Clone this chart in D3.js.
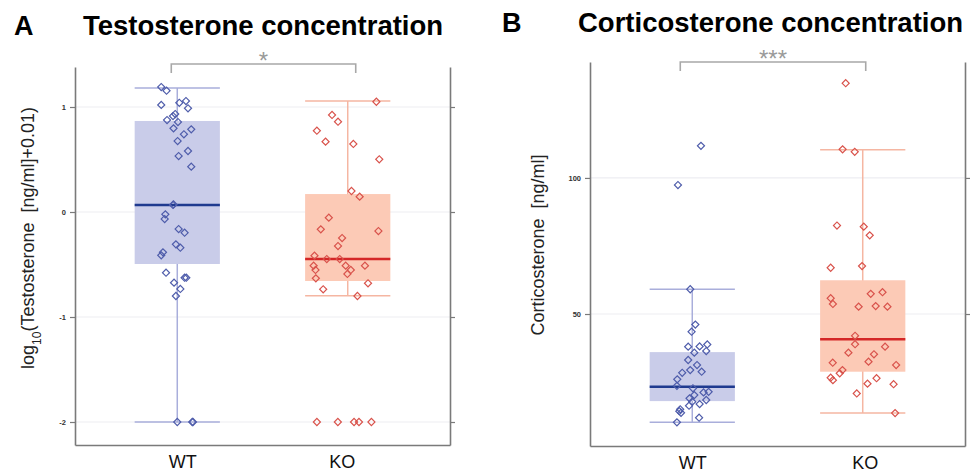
<!DOCTYPE html>
<html lang="en">
<head>
<meta charset="UTF-8" />
<script src="https://d3js.org/d3.v7.min.js"></script>
<title>Testosterone / Corticosterone</title>
<style>
  body { margin: 0; background: #fff; }
  svg { font-family: Arial, "Liberation Sans", sans-serif; }
</style>
</head>
<body>
<svg width="973" height="475"></svg>
<script>
const groups = ["WT", "KO"];

// testosterone, log10(ng/ml + 0.01) -> [value, jitter in category steps]
const testoWT = [
  [1.19, -0.094], [1.155, -0.063], [1.02, -0.094], [1.04, 0.012], [1.057, 0.051],
  [0.988, 0.063], [0.933, -0.012], [0.914, -0.025], [0.876, -0.06], [0.857, 0.004],
  [0.797, -0.022], [0.787, 0.082], [0.74, 0.039], [0.676, 0.002], [0.581, 0.063],
  [0.533, 0.008], [0.432, 0.082], [0.067, -0.025], [0.072, -0.022], [-0.022, -0.07],
  [-0.067, -0.074], [-0.162, 0.008], [-0.197, 0.043], [-0.308, -0.008], [-0.34, 0.018],
  [-0.384, -0.084], [-0.413, -0.094], [-0.578, -0.066], [-0.626, 0.043], [-0.626, 0.053],
  [-0.673, -0.019], [-0.733, 0.018], [-0.8, -0.008], [-2, 0], [-2, 0.088], [-2, 0.092]
];
const testoKO = [
  [1.05, 0.168], [0.924, -0.092], [0.86, -0.057], [0.774, -0.181], [0.67, -0.13],
  [0.648, 0.033], [0.502, 0.185], [0.2, 0.022], [0.146, 0.07], [-0.054, -0.111],
  [-0.165, -0.158], [-0.181, 0.18], [-0.248, -0.033], [-0.324, -0.057], [-0.416, -0.195],
  [-0.448, -0.123], [-0.448, -0.047], [-0.511, -0.2], [-0.552, -0.189], [-0.511, -0.012],
  [-0.552, 0.018], [-0.511, 0.101], [-0.59, -0.002], [-0.632, -0.187], [-0.679, 0.119],
  [-0.736, -0.144], [-0.8, 0.057], [-2, -0.181], [-2, -0.058], [-2, 0.037],
  [-2, 0.066], [-2, 0.139]
];
// [lower whisker, Q1, median, Q3, upper whisker]
const testoBoxWT = [-2, -0.495, 0.067, 0.867, 1.18];
const testoBoxKO = [-0.797, -0.657, -0.448, 0.171, 1.057];
const testoTicks = [-2, -1, 0, 1];

// corticosterone, ng/ml
const corticoWT = [
  [111.8, 0.051], [97.4, -0.084], [59.1, -0.012], [46.1, 0.018], [43.5, -0.004],
  [38.8, 0.088], [38.1, 0.043], [38.0, -0.024], [36.4, 0.082], [35.8, 0.012],
  [33.1, -0.024], [31.25, 0.028], [29.4, -0.012], [28.8, 0.055], [28.4, -0.059],
  [26.0, -0.088], [23.6, -0.09], [22.7, 0.004], [21.4, 0.096], [21.2, 0.066],
  [20.2, 0.012], [19.0, -0.016], [18.4, 0.082], [17.8, 0], [16.9, 0.043],
  [16.3, -0.019], [15.0, -0.071], [14.3, -0.076], [13.7, -0.066], [11.9, 0.04],
  [10.2, -0.09]
];
const corticoKO = [
  [134.8, -0.1], [110.5, -0.118], [109.6, -0.047], [82.5, -0.151], [82.1, 0.006],
  [78.9, 0.041], [67.6, -0.004], [67.0, -0.188], [58.0, 0.116], [57.4, 0.047],
  [55.8, -0.188], [53.7, -0.175], [52.7, -0.024], [52.9, 0.076], [52.7, 0.145],
  [42.0, -0.045], [38.9, -0.045], [38.0, 0.131], [35.8, -0.084], [35.2, 0.066],
  [32.1, -0.176], [32.5, 0.034], [31.25, 0.196], [29.4, -0.119], [28.2, -0.135],
  [26.6, -0.188], [25.7, -0.175], [26.4, 0.081], [24.4, 0.028], [24.2, 0.181],
  [20.8, -0.035], [13.6, 0.19]
];
const corticoBoxWT = [10.2, 18.0, 23.3, 36.0, 59.1];
const corticoBoxKO = [13.6, 28.8, 40.7, 62.4, 110.4];
const corticoTicks = [50, 100];

const colors = {
  WT: { box: "#c9cce9", whisker: "#a9aedb", median: "#1f3a8f", point: "#4f5dab" },
  KO: { box: "#fccab6", whisker: "#f5b6a2", median: "#d42727", point: "#d9534c" }
};

const svg = d3.select("svg");
const diamond = d3.symbol(d3.symbolSquare, 25);

function drawPanel(opt) {
  const g = svg.append("g");

  const x = d3.scalePoint().domain(groups).range([opt.left, opt.right]).padding(0.6);
  const y = d3.scaleLinear().domain(opt.domain).range([opt.bottom, opt.top]);
  const boxW = x.step() * 0.5;

  // faint grid
  g.selectAll(".grid")
    .data(opt.ticks)
    .enter()
    .append("line")
    .attr("x1", opt.left)
    .attr("x2", opt.right)
    .attr("y1", (d) => y(d))
    .attr("y2", (d) => y(d))
    .attr("stroke", "#ededf2")
    .attr("stroke-width", 1.2);

  const boxes = groups.map((k) => ({ k: k, s: opt.box[k] }));

  // whiskers
  g.selectAll(".whisker")
    .data(boxes)
    .enter()
    .append("line")
    .attr("x1", (d) => x(d.k))
    .attr("x2", (d) => x(d.k))
    .attr("y1", (d) => y(d.s[0]))
    .attr("y2", (d) => y(d.s[4]))
    .attr("stroke", (d) => colors[d.k].whisker)
    .attr("stroke-width", 1.5);

  boxes.forEach((b) => {
    [b.s[0], b.s[4]].forEach((v) => {
      g.append("line")
        .attr("x1", x(b.k) - boxW / 2)
        .attr("x2", x(b.k) + boxW / 2)
        .attr("y1", y(v))
        .attr("y2", y(v))
        .attr("stroke", colors[b.k].whisker)
        .attr("stroke-width", 1.5);
    });
  });

  // boxes and medians
  g.selectAll(".box")
    .data(boxes)
    .enter()
    .append("rect")
    .attr("x", (d) => x(d.k) - boxW / 2)
    .attr("width", boxW)
    .attr("y", (d) => y(d.s[3]))
    .attr("height", (d) => y(d.s[1]) - y(d.s[3]))
    .attr("fill", (d) => colors[d.k].box);

  g.selectAll(".median")
    .data(boxes)
    .enter()
    .append("line")
    .attr("x1", (d) => x(d.k) - boxW / 2)
    .attr("x2", (d) => x(d.k) + boxW / 2)
    .attr("y1", (d) => y(d.s[2]))
    .attr("y2", (d) => y(d.s[2]))
    .attr("stroke", (d) => colors[d.k].median)
    .attr("stroke-width", 2.5);

  // points
  groups.forEach((k) => {
    g.selectAll(".pt-" + k)
      .data(opt.points[k])
      .enter()
      .append("path")
      .attr("d", diamond)
      .attr("transform", (d) => `translate(${x(k) + d[1] * x.step()},${y(d[0])}) rotate(45)`)
      .attr("fill", "none")
      .attr("stroke", colors[k].point)
      .attr("stroke-width", 1.2);
  });

  // axes
  const styleAxis = (sel) => {
    sel.select(".domain").attr("stroke", "#7a7a7a").attr("stroke-width", 1.6);
    sel.selectAll(".tick line").attr("stroke", "#7a7a7a").attr("stroke-width", 1.2);
    sel.selectAll(".tick text")
      .attr("fill", "#333")
      .style("font-size", "7.5px")
      .style("font-weight", "bold");
  };

  g.append("g")
    .attr("transform", `translate(${opt.left},0)`)
    .call(d3.axisLeft(y).tickValues(opt.ticks).tickFormat((d) => String(d))
      .tickSize(5).tickSizeOuter(0).tickPadding(4))
    .call(styleAxis);

  g.append("g")
    .attr("transform", `translate(${opt.right},0)`)
    .call(d3.axisRight(y).tickValues(opt.ticks).tickSize(5).tickSizeOuter(0).tickFormat(""))
    .call(styleAxis);

  const xAxis = g.append("g")
    .attr("transform", `translate(0,${opt.bottom})`)
    .call(d3.axisBottom(x).tickSize(0).tickSizeOuter(0).tickPadding(10));
  xAxis.select(".domain").attr("stroke", "#7a7a7a").attr("stroke-width", 1.6);
  xAxis.selectAll(".tick text")
    .attr("fill", "#111")
    .attr("dx", (d, i) => opt.labelDx[i])
    .style("font-size", "18px");

  // significance bracket
  const bx1 = x("WT") + opt.bracket[0];
  const bx2 = x("KO") + opt.bracket[1];
  g.append("path")
    .attr("d", `M${bx1},${opt.bracketY + 9}V${opt.bracketY}H${bx2}V${opt.bracketY + 9}`)
    .attr("fill", "none")
    .attr("stroke", "#a8a8a8")
    .attr("stroke-width", 1.6);
  g.append("text")
    .attr("x", (bx1 + bx2) / 2)
    .attr("y", opt.bracketY + 5)
    .attr("text-anchor", "middle")
    .attr("fill", "#9a9a9a")
    .style("font-size", "24px")
    .text(opt.stars);

  // titles
  g.append("text")
    .attr("x", opt.letterX)
    .attr("y", opt.titleY)
    .style("font-size", "27px")
    .style("font-weight", "bold")
    .text(opt.letter);
  g.append("text")
    .attr("x", opt.titleX)
    .attr("y", opt.titleY)
    .style("font-size", "27.5px")
    .style("font-weight", "bold")
    .text(opt.title);

  // y label
  const yl = g.append("text")
    .attr("transform", `translate(${opt.ylabelX},${opt.ylabelY}) rotate(-90)`)
    .attr("text-anchor", "middle")
    .attr("fill", "#222")
    .style("font-size", "18px")
    .style("white-space", "pre");
  opt.ylabel.forEach((part) => {
    const t = yl.append("tspan").text(part.text);
    if (part.sub) t.attr("baseline-shift", "sub").style("font-size", "12px");
  });
}

drawPanel({
  left: 75, right: 450, top: 67, bottom: 445,
  domain: [-2.219, 1.381],
  ticks: testoTicks,
  box: { WT: testoBoxWT, KO: testoBoxKO },
  points: { WT: testoWT, KO: testoKO },
  labelDx: [5, -6],
  bracket: [-6, 8], bracketY: 64, stars: "*",
  letter: "A", letterX: 14, titleX: 83, titleY: 35,
  title: "Testosterone concentration",
  ylabelX: 34, ylabelY: 238,
  ylabel: [{ text: "log" }, { text: "10", sub: true }, { text: "(Testosterone  [ng/ml]+0.01)" }]
});

drawPanel({
  left: 590, right: 965, top: 62, bottom: 446,
  domain: [1.5, 142.6],
  ticks: corticoTicks,
  box: { WT: corticoBoxWT, KO: corticoBoxKO },
  points: { WT: corticoWT, KO: corticoKO },
  labelDx: [0, 2],
  bracket: [-12, 3], bracketY: 62, stars: "***",
  letter: "B", letterX: 502, titleX: 578, titleY: 32,
  title: "Corticosterone concentration",
  ylabelX: 544, ylabelY: 245,
  ylabel: [{ text: "Corticosterone  [ng/ml]" }]
});
</script>
</body>
</html>
